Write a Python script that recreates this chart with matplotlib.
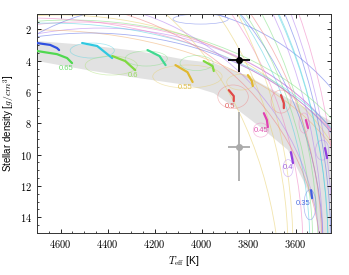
import numpy as np
import matplotlib.pyplot as plt
from matplotlib.patches import Ellipse
from matplotlib.ticker import MultipleLocator

plt.rcParams['mathtext.fontset'] = 'cm'
plt.rcParams['axes.formatter.use_mathtext'] = True
plt.rcParams['font.family'] = ['Liberation Sans', 'DejaVu Sans']

# colours used for the mass tracks
blue = '#5b6ee8'
cyan = '#4fd0e0'
green = '#7ee07e'
lgreen = '#a8e070'
yellow = '#e8cf6a'
orange = '#f0b070'
red = '#f08080'
pink = '#f07cc0'
purple = '#b07cf0'

# allowed region (grey band): upper and lower edge
band_upper_T = np.array([4760, 4700, 4486, 4273, 4059, 3948, 3803, 3734, 3619, 3448, 3380, 3380])
band_upper_d = np.array([2.70, 2.74, 3.00, 3.38, 3.96, 4.15, 4.98, 5.56, 6.51, 7.86, 8.30, 16.5])
band_lower_T = np.array([4760, 4700, 4486, 4273, 4059, 3948, 3845, 3734, 3632, 3568, 3512, 3499, 3490])
band_lower_d = np.array([3.98, 4.02, 4.60, 5.10, 5.56, 6.07, 7.15, 8.43, 9.71, 11.63, 13.54, 14.8, 16.5])

# thin evolutionary tracks (ellipse arcs: centre, full width, full height)
track_cT = [4602, 4516, 4431, 4687, 4217, 4858, 4858, 4858, 4858, 4858, 4858, 4858,
            4858, 4858, 4858, 4858, 4858, 4858, 4858, 4730, 4559, 4644, 4474, 4730,
            4700, 4620]
track_cd = [15.46, 15.46, 15.46, 14.82, 16.10, 16.10, 16.10, 16.10, 16.10, 16.10, 16.10, 16.10,
            16.10, 16.10, 16.10, 16.10, 16.10, 16.10, 16.10, 19.29, 15.14, 15.78, 15.33, 16.10,
            17.20, 16.60]
track_wT = [2562, 2477, 2306, 2733, 2050, 2579, 2750, 2707, 2750, 2793, 2818, 2494,
            2451, 2741, 2878, 2835, 2793, 2664, 2639, 2135, 2647, 2818, 2391, 2989,
            2420, 2250]
track_hd = [28.76, 27.86, 27.09, 25.56, 31.31, 46.8, 45.2, 53.2, 56.4, 57.3, 59.2, 51.6,
            46.1, 48.1, 64.5, 62.0, 56.7, 48.7, 47.5, 43.45, 27.48, 28.37, 26.20, 29.65,
            34.0, 33.0]
track_col = [yellow, pink, purple, orange, blue, pink, blue, green, purple, cyan, blue, yellow,
             yellow, red, pink, purple, cyan, green, cyan, yellow, green, cyan, blue, pink,
             red, purple]

# small loops near the zero-age main sequence
loop_cT = [4465, 4384, 4235, 4060, 3866, 3662, 3748, 3564, 3632, 3487, 3539, 4004, 4021, 3833]
loop_cd = [3.35, 4.31, 3.86, 5.01, 6.30, 6.61, 8.43, 7.98, 10.86, 9.71, 13.20, 1.34, 4.15, 5.37]
loop_wT = [188, 222, 179, 295, 130, 85, 64, 43, 43, 56, 51, 235, 141, 120]
loop_hd = [0.96, 1.21, 0.96, 1.47, 1.50, 1.47, 0.90, 1.28, 1.09, 1.28, 1.92, 0.64, 0.96, 1.00]
loop_col = [cyan, lgreen, green, yellow, red, red, pink, pink, purple, purple, blue, blue, green, yellow]

# thick segments (main-sequence ages)
seg_T = [[4710, 4644, 4615, 4606], [4508, 4444, 4380], [4700, 4615, 4572, 4551],
         [4380, 4325, 4282], [4230, 4179, 4153], [4111, 4060, 4038], [3991, 3953, 3948],
         [3803, 3786, 3782], [3884, 3863, 3863], [3662, 3650, 3650], [3735, 3722, 3718],
         [3556, 3547], [3620, 3611], [3475, 3466], [3534, 3530]]
seg_d = [[2.85, 2.99, 3.19, 3.32], [2.87, 3.06, 3.83], [3.38, 3.58, 3.83, 4.15],
         [3.70, 4.02, 4.60], [3.32, 3.70, 4.28], [4.28, 4.73, 5.36], [4.02, 4.34, 4.66],
         [4.92, 5.30, 5.62], [5.88, 6.26, 6.58], [6.20, 6.71, 7.03], [7.35, 7.79, 8.24],
         [7.79, 8.30], [9.84, 10.54], [9.58, 10.22], [12.27, 12.78]]
seg_col = ['#3050e0', '#30c8e0', '#50d850', '#80d840', '#40d890', '#e0b830', '#80d840',
           '#e0b830', '#e04848', '#e04848', '#e040b0', '#e040b0', '#9040e0', '#9040e0', '#4060e0']

# mass labels
mass_lab = ['0.65', '0.6', '0.55', '0.5', '0.45', '0.4', '0.35']
lab_T = [4576, 4290, 4068, 3880, 3748, 3632, 3568]
lab_d = [4.47, 4.92, 5.69, 6.90, 8.43, 10.80, 13.10]
lab_col = ['#70dc70', '#98dc60', '#e0c050', '#e06060', '#e050b0', '#a060e0', '#5070e0']

# measured stellar densities
obs_T = [3840, 3840]
obs_d = [3.95, 9.5]
obs_Terr = [47, 47]
obs_derr = [0.77, 2.2]
obs_col = ['k', '#aaaaaa']

fig = plt.figure(figsize=(3.49, 2.75), dpi=100)
ax = fig.add_axes([0.106, 0.153, 0.842, 0.797])

ax.fill(np.concatenate([band_upper_T, band_lower_T[::-1]]),
        np.concatenate([band_upper_d, band_lower_d[::-1]]),
        color='#e2e2e2', lw=0, zorder=0)

for cT, cd, w, h, c in zip(track_cT, track_cd, track_wT, track_hd, track_col):
    ax.add_patch(Ellipse((cT, cd), w, h, fill=False, ec=c, lw=0.6, alpha=0.55, zorder=1))

for cT, cd, w, h, c in zip(loop_cT, loop_cd, loop_wT, loop_hd, loop_col):
    ax.add_patch(Ellipse((cT, cd), w, h, fill=False, ec=c, lw=0.5, alpha=0.5, zorder=1))

for T, d, c in zip(seg_T, seg_d, seg_col):
    ax.plot(T, d, color=c, lw=1.6, solid_capstyle='round', zorder=3)

for s, T, d, c in zip(mass_lab, lab_T, lab_d, lab_col):
    ax.text(T, d, s, color=c, fontsize=5.5, ha='center', va='center', zorder=4)

for T, d, te, de, c in zip(obs_T, obs_d, obs_Terr, obs_derr, obs_col):
    ax.errorbar(T, d, xerr=te, yerr=de, fmt='o', color=c, ms=4, elinewidth=1.3,
                capsize=0, zorder=5)

ax.set_xlim(4700, 3450)
ax.set_ylim(15, 1)
ax.xaxis.set_major_locator(MultipleLocator(200))
ax.xaxis.set_minor_locator(MultipleLocator(50))
ax.yaxis.set_major_locator(MultipleLocator(2))
ax.yaxis.set_minor_locator(MultipleLocator(0.5))
ax.tick_params(which='both', direction='in', top=True, right=True, labelsize=7.5)
ax.tick_params(which='major', length=3, width=0.6)
ax.tick_params(which='minor', length=1.5, width=0.5)
for sp in ax.spines.values():
    sp.set_linewidth(0.7)
    sp.set_color('#333333')
for lab in ax.get_xticklabels() + ax.get_yticklabels():
    lab.set_fontfamily('cmr10')

ax.set_xlabel(r'$T_{\rm eff}$ [K]', fontsize=7.5, labelpad=3)
ax.set_ylabel(r'Stellar density [$g/cm^3$]', fontsize=7, labelpad=2)

plt.savefig('out.png', dpi=100)
